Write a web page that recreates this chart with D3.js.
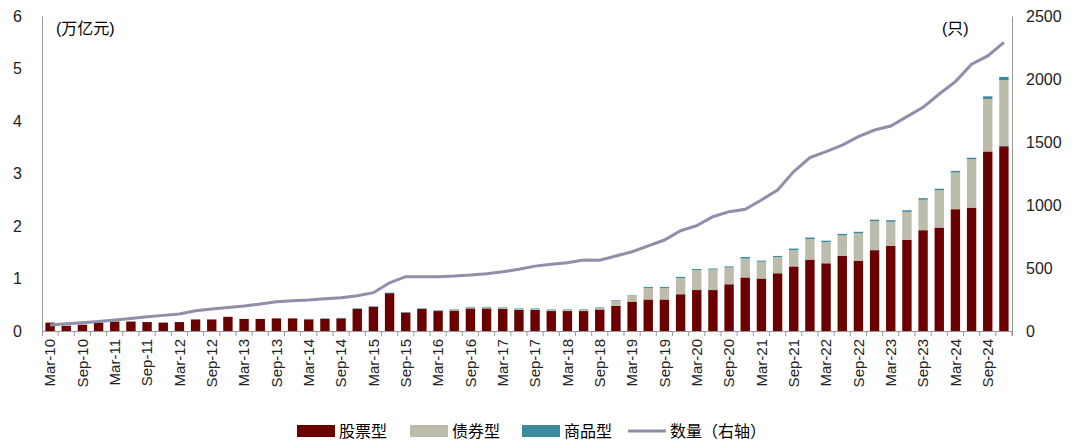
<!DOCTYPE html><html><head><meta charset="utf-8"><script src="https://cdn.jsdelivr.net/npm/d3@7"></script>
<style>body{margin:0;background:#fff}text{font-family:"Liberation Sans",Arial,"Noto Sans CJK SC",sans-serif}</style></head><body><svg id="c" width="1080" height="448"></svg><script>
const years=d3.range(2010,2025);const mons=["Mar","Jun","Sep","Dec"];
const quarters=[];years.forEach(y=>mons.forEach(m=>quarters.push(m+"-"+String(y).slice(2))));
const equity=[0.16,0.1,0.12,0.16,0.18,0.18,0.17,0.16,0.17,0.22,0.22,0.27,0.23,0.23,0.24,0.24,0.22,0.23,0.24,0.42,0.46,0.72,0.35,0.42,0.38,0.39,0.43,0.43,0.42,0.4,0.4,0.38,0.38,0.38,0.41,0.48,0.56,0.6,0.6,0.7,0.78,0.78,0.89,1.02,1.0,1.1,1.23,1.36,1.29,1.43,1.34,1.54,1.62,1.74,1.92,1.97,2.32,2.35,3.42,3.52];
const bond=[0,0,0,0,0,0,0,0,0,0,0,0,0,0,0,0,0,0,0,0,0,0,0,0,0.01,0.01,0.02,0.02,0.02,0.02,0.02,0.02,0.02,0.02,0.03,0.1,0.11,0.22,0.22,0.31,0.38,0.39,0.32,0.36,0.32,0.31,0.31,0.39,0.4,0.39,0.52,0.55,0.46,0.53,0.58,0.71,0.7,0.92,1.0,1.26];
const commodity=[0,0,0,0,0,0,0,0,0,0,0,0,0,0,0,0,0.01,0.01,0.01,0.01,0.01,0.01,0.01,0.01,0.01,0.01,0.01,0.01,0.01,0.01,0.01,0.01,0.01,0.01,0.01,0.01,0.01,0.02,0.02,0.02,0.02,0.02,0.02,0.03,0.02,0.02,0.03,0.03,0.03,0.03,0.03,0.03,0.03,0.03,0.03,0.03,0.03,0.03,0.05,0.06];
const count=[48,57,66,76,87,100,113,124,135,160,175,186,198,215,233,240,246,255,264,280,304,383,431,431,431,436,444,455,470,490,515,530,542,563,561,595,629,675,722,796,836,907,947,966,1040,1119,1265,1376,1423,1476,1542,1595,1627,1701,1775,1881,1979,2117,2183,2291];
const leftTicks=[0,1,2,3,4,5,6],rightTicks=[0,500,1000,1500,2000,2500];
const colors={eq:"#6b0000",bd:"#bdbcaa",cm:"#3a8b9e",ln:"#8e8fa9"};
const svg=d3.select("#c");const L=42,R=1012,T=16,B=331;
const x=d3.scaleBand().domain(quarters).range([L,R]).paddingInner(0.42).paddingOuter(0.21);
const xb=d3.scaleBand().domain(quarters).range([L,R]);
const y=d3.scaleLinear().domain([0,6]).range([B,T]);
const y2=d3.scaleLinear().domain([0,2500]).range([B,T]);
const data=quarters.map((q,i)=>({q,eq:equity[i],bd:bond[i],cm:commodity[i]}));
const st=d3.stack().keys(["eq","bd","cm"])(data);
svg.append("g").selectAll("g").data(st).join("g").attr("fill",d=>colors[d.key]).selectAll("rect").data(d=>d).join("rect")
 .attr("x",d=>x(d.data.q)).attr("width",x.bandwidth()).attr("y",d=>y(d[1])).attr("height",d=>Math.max(0,y(d[0])-y(d[1])));
svg.append("path").datum(count).attr("fill","none").attr("stroke",colors.ln).attr("stroke-width",3)
 .attr("d",d3.line().x((d,i)=>xb(quarters[i])+xb.bandwidth()/2).y(d=>y2(d)));
const ax=svg.append("g").attr("transform",`translate(0,${B})`).call(d3.axisBottom(xb).tickSize(5).tickFormat((d,i)=>i%2==0?d:""));
ax.selectAll(".tick line").attr("transform",`translate(${xb.bandwidth()/2},0)`);
ax.selectAll("text").attr("transform","rotate(-90)").attr("text-anchor","end").attr("x",-8).attr("y",0).attr("dy","0.35em").style("font-size","15px").attr("fill","#222");
const la=svg.append("g").attr("transform",`translate(${L},0)`).call(d3.axisLeft(y).tickValues(leftTicks).tickFormat(d3.format("d")).tickSize(0).tickPadding(20));
la.selectAll("text").style("font-size","16px").attr("fill","#222");
const ra=svg.append("g").attr("transform",`translate(${R},0)`).call(d3.axisRight(y2).tickValues(rightTicks).tickFormat(d3.format("d")).tickSize(0).tickPadding(14));
ra.selectAll("text").style("font-size","16px").attr("fill","#222");
svg.selectAll(".domain,.tick line").attr("stroke","#999");
svg.append("text").attr("x",56).attr("y",34).text("(万亿元)").style("font-size","16px");
svg.append("text").attr("x",942).attr("y",34).text("(只)").style("font-size","16px");
const leg=[["股票型",colors.eq,"r"],["债券型",colors.bd,"r"],["商品型",colors.cm,"r"],["数量（右轴）",colors.ln,"l"]];
const lx=[297,410,522,628];
leg.forEach((d,i)=>{const g=svg.append("g").attr("transform",`translate(${lx[i]},431)`);
 if(d[2]=="r")g.append("rect").attr("x",0).attr("y",-6).attr("width",38).attr("height",12).attr("fill",d[1]);
 else g.append("line").attr("x1",0).attr("x2",38).attr("stroke",d[1]).attr("stroke-width",3);
 g.append("text").attr("x",42).attr("dy","0.35em").text(d[0]).style("font-size","16px");});
</script></body></html>
